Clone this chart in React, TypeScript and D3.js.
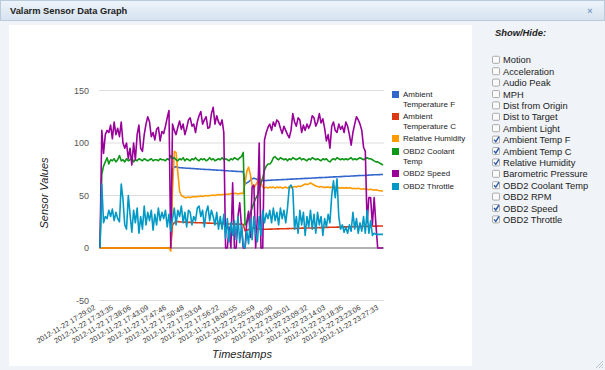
import React from 'react'
import * as d3 from 'd3'

// x axis labels, one every 10 readings
const tickLabels = [
  '2012-11-22 17:29:02', '2012-11-22 17:33:35', '2012-11-22 17:38:06', '2012-11-22 17:43:09',
  '2012-11-22 17:47:46', '2012-11-22 17:50:48', '2012-11-22 17:53:04', '2012-11-22 17:56:22',
  '2012-11-22 18:00:55', '2012-11-22 22:55:59', '2012-11-22 23:00:30', '2012-11-22 23:05:01',
  '2012-11-22 23:09:32', '2012-11-22 23:14:03', '2012-11-22 23:18:35', '2012-11-22 23:23:06',
  '2012-11-22 23:27:33',
]
const tickEvery = 10
const yTicks = [-50, 0, 50, 100, 150]

const ambientTempF = [
  0, 0, 0, 0, 0, 0, 0, 0, 0, 0,
  0, 0, 0, 0, 0, 0, 0, 0, 0, 0,
  0, 0, 0, 0, 0, 0, 0, 0, 0, 0,
  0, 0, 0, 0, 0, 0, 0, 0, 0, 0,
  0, 75, 77, 77.5, 77, 76.5, 76.5, 76.3, 76.2, 76,
  75.9, 75.8, 75.7, 75.6, 75.5, 75.4, 75.3, 75.1, 75.0, 74.9,
  74.8, 74.7, 74.6, 74.5, 74.4, 74.3, 74.2, 74.1, 74.0, 73.9,
  73.8, 73.6, 73.5, 73.4, 73.3, 73.2, 73.1, 73.0, 72.9, 72.8,
  72.7, 72.6, 61, 62, 63, 64.5, 66, 66.5, 66, 65,
  64.5, 64.3, 64.2, 64.2, 64.3, 64.4, 64.5, 64.6, 64.7, 64.8,
  64.9, 65.0, 65.0, 65.1, 65.2, 65.3, 65.4, 65.5, 65.6, 65.6,
  65.7, 65.8, 65.9, 66.0, 66.1, 66.2, 66.3, 66.3, 66.4, 66.5,
  66.6, 66.7, 66.8, 66.9, 67.0, 67.0, 67.1, 67.2, 67.3, 67.4,
  67.5, 67.6, 67.7, 67.7, 67.8, 67.9, 68.0, 68.1, 68.2, 68.3,
  68.4, 68.4, 68.5, 68.6, 68.7, 68.8, 68.9, 69.0, 69.1, 69.1,
  69.2, 69.3, 69.4, 69.5, 69.6, 69.7, 69.8, 69.8, 69.9, 70.0,
  70.0,
]

const ambientTempC = [
  0, 0, 0, 0, 0, 0, 0, 0, 0, 0,
  0, 0, 0, 0, 0, 0, 0, 0, 0, 0,
  0, 0, 0, 0, 0, 0, 0, 0, 0, 0,
  0, 0, 0, 0, 0, 0, 0, 0, 0, 0,
  0, 22, 24, 25, 25.2, 24.9, 24.8, 24.7, 24.6, 24.5,
  24.4, 24.4, 24.3, 24.3, 24.2, 24.1, 24.0, 24.0, 23.9, 23.8,
  23.8, 23.7, 23.7, 23.6, 23.5, 23.5, 23.4, 23.3, 23.3, 23.2,
  23.1, 23.1, 23.0, 22.9, 22.9, 22.8, 22.8, 22.7, 22.7, 22.6,
  22.6, 22.5, 16.5, 17, 17.5, 18, 18.5, 19, 18.8, 18.3,
  18.1, 18.0, 17.8, 17.8, 17.9, 17.9, 18.0, 18.0, 18.1, 18.1,
  18.2, 18.2, 18.3, 18.3, 18.4, 18.4, 18.5, 18.5, 18.6, 18.6,
  18.7, 18.7, 18.8, 18.8, 18.9, 18.9, 19.0, 19.0, 19.1, 19.1,
  19.2, 19.2, 19.3, 19.3, 19.4, 19.4, 19.5, 19.5, 19.6, 19.6,
  19.7, 19.7, 19.8, 19.8, 19.9, 19.9, 20.0, 20.0, 20.1, 20.1,
  20.2, 20.2, 20.3, 20.3, 20.4, 20.4, 20.5, 20.5, 20.5, 20.6,
  20.6, 20.6, 20.7, 20.7, 20.7, 20.8, 20.8, 20.8, 20.9, 20.9,
  21.0,
]

const relHumidity = [
  0, 0, 0, 0, 0, 0, 0, 0, 0, 0,
  0, 0, 0, 0, 0, 0, 0, 0, 0, 0,
  0, 0, 0, 0, 0, 0, 0, 0, 0, 0,
  0, 0, 0, 0, 0, 0, 0, 0, 0, 0,
  -3, 55, 92, 91, 72, 54, 50, 49, 48, 48,
  48.5, 48, 48.5, 49, 48.5, 49, 49, 49.5, 49, 49.5,
  50, 49.5, 50, 50, 50.5, 50, 50.5, 51, 50.5, 51,
  51, 51.5, 51, 51.5, 52, 51.5, 52, 52, 51.5, 52,
  52, 52, 62, 73, 77, 70, 60, 57, 60, 63,
  70, 62, 58, 57, 58, 57, 58, 57.5, 58, 57,
  58, 57.5, 58, 57, 57.5, 58, 57, 58, 57.5, 58,
  58.5, 58, 59, 58.5, 59, 60, 61, 60.5, 61, 62,
  61, 60, 59, 58.5, 58, 58.5, 58, 57.5, 58, 58,
  57.5, 58, 57.5, 58, 57, 57.5, 57, 57.5, 57, 57.5,
  57, 57.5, 57, 56.5, 57, 56.5, 57, 56.5, 56, 56.5,
  56, 56, 55.5, 56, 55.5, 55, 55.5, 55, 54.5, 54.5,
  54,
]

const coolantTemp = [
  0, 70, 78, 82, 86, 80, 84, 83, 85, 82,
  84, 88, 83, 84, 82, 85, 83, 84, 86, 82,
  84, 83, 85, 84, 83, 85, 84, 83, 84, 85,
  83, 84, 84, 83, 85, 84, 84, 83, 85, 84,
  88, 85, 86, 84, 83, 85, 84, 86, 83, 85,
  84, 83, 85, 84, 86, 84, 83, 85, 84, 85,
  83, 84, 86, 84, 85, 83, 84, 85, 84, 86,
  84, 85, 84, 83, 85, 84, 86, 85, 84, 86,
  87, 91, 22, 24, 28, 33, 38, 43, 47, 50,
  56, 62, 67, 74, 78, 80, 80, 82, 86, 87,
  85, 84, 86, 85, 84, 85, 83, 85, 84, 86,
  85, 84, 85, 86, 84, 85, 84, 83, 85, 84,
  86, 85, 84, 85, 84, 83, 85, 84, 85, 83,
  82, 84, 85, 84, 86, 85, 84, 85, 84, 85,
  84, 85, 86, 84, 85, 84, 85, 86, 85, 84,
  85, 86, 85, 85, 84, 83, 82, 82, 81, 80,
  79,
]

const speed = [
  0, 112, 90, 108, 112, 110, 117, 104, 120, 108,
  114, 106, 120, 100, 95, 100, 85, 95, 79, 100,
  84, 108, 117, 95, 92, 108, 118, 125, 120, 106,
  110, 103, 113, 115, 102, 111, 109, 116, 124, 131,
  0, 118, 112, 108, 115, 121, 113, 118, 108, 114,
  122, 124, 116, 118, 110, 120, 126, 130, 118, 122,
  125, 114, 115, 128, 134, 118, 126, 120, 117, 122,
  110, 0, 0, 20, 0, 62, 0, 0, 30, 43,
  20, 0, 0, 25, 35, 10, 58, 60, 0, 30,
  100, 0, 0, 103, 110, 115, 118, 112, 120, 116,
  122, 120, 114, 109, 116, 112, 108, 105, 112, 128,
  120, 116, 124, 122, 110, 117, 112, 118, 114, 118,
  126, 124, 116, 120, 128, 119, 123, 114, 102, 108,
  95, 116, 120, 112, 110, 118, 113, 116, 110, 120,
  116, 108, 98, 110, 118, 125, 122, 118, 112, 96,
  92, 24, 48, 48, 22, 48, 22, 0, 0, 0,
  0,
]

const throttle = [
  0, 61, 24, 30, 28, 36, 30, 37, 26, 34,
  28, 25, 61, 46, 22, 18, 50, 32, 15, 36,
  24, 38, 14, 30, 18, 40, 22, 34, 26, 36,
  17, 32, 22, 38, 26, 34, 28, 36, 20, 32,
  16, 28, 38, 22, 36, 30, 40, 24, 34, 20,
  36, 34, 22, 30, 26, 38, 40, 30, 36, 20,
  34, 40, 26, 36, 30, 22, 34, 18, 30, 18,
  32, 9, 28, 6, 24, 12, 26, 8, 30, 5,
  22, 2, 0, 16, 4, 28, 8, 30, 14, 6,
  30, 12, 36, 24, 33, 28, 36, 24, 38, 26,
  34, 22, 38, 28, 36, 24, 38, 58, 60, 56,
  18, 30, 14, 36, 22, 34, 12, 30, 20, 36,
  18, 32, 14, 34, 22, 30, 12, 28, 20, 32,
  24, 50, 64, 48, 66, 30, 18, 22, 15, 20,
  14, 22, 16, 34, 18, 28, 14, 24, 16, 30,
  14, 36, 14, 26, 12, 14, 13, 13, 13, 13,
  13,
]

const series = [
  { name: ['Ambient', 'Temperature F'], color: '#3366cc', values: ambientTempF },
  { name: ['Ambient', 'Temperature C'], color: '#dc3912', values: ambientTempC },
  { name: ['Relative Humidity'], color: '#ff9900', values: relHumidity },
  { name: ['OBD2 Coolant', 'Temp'], color: '#109618', values: coolantTemp },
  { name: ['OBD2 Speed'], color: '#990099', values: speed },
  { name: ['OBD2 Throttle'], color: '#0099c6', values: throttle },
]

const sensorNames = [
  'Motion', 'Acceleration', 'Audio Peak', 'MPH', 'Dist from Origin', 'Dist to Target',
  'Ambient Light', 'Ambient Temp F', 'Ambient Temp C', 'Relative Humidity',
  'Barometric Pressure', 'OBD2 Coolant Temp', 'OBD2 RPM', 'OBD2 Speed', 'OBD2 Throttle',
]
const sensorShown = [
  false, false, false, false, false, false, false, true, true, true, false, true, false, true, true,
]

const font = '"Liberation Sans", Arial, sans-serif'

export default function App() {
  const n = speed.length
  const x = d3.scaleLinear().domain([0, n - 1]).range([100, 383])
  const y = d3.scaleLinear().domain([-50, 150]).range([300.5, 90.5])
  const line = d3.line<number>().x((_, i) => x(i)).y(d => y(d))

  const legendY = [91, 113, 135, 148, 170, 183]

  return (
    <svg width={605} height={370} style={{ position: 'absolute', left: 0, top: 0 }} fontFamily={font}>
      <defs>
        <linearGradient id="titlebar" x1="0" y1="0" x2="0" y2="1">
          <stop offset="0" stopColor="#eef4fa" />
          <stop offset="1" stopColor="#d5e2ef" />
        </linearGradient>
      </defs>
      <rect x={0} y={0} width={605} height={370} fill="#f0f3f7" />
      <rect x={0.5} y={0.5} width={604} height={20} fill="url(#titlebar)" stroke="#b9cadb" />
      <text x={10} y={14} fontSize={9.3} fontWeight="bold" fill="#222">Valarm Sensor Data Graph</text>
      <text x={590} y={14} fontSize={9} fontWeight="bold" fill="#7d9cc4" textAnchor="middle">×</text>

      <rect x={9} y={25} width={463} height={341} fill="#fff" />

      {/* gridlines */}
      {yTicks.map(t => (
        <g key={t}>
          <line x1={99} x2={384} y1={y(t)} y2={y(t)} stroke={t === 0 ? '#999' : '#ddd'} strokeWidth={t === 0 ? 1.5 : 1} />
          <text x={89} y={y(t) + 3} fontSize={9} fill="#555" textAnchor="end">{t}</text>
        </g>
      ))}

      {/* series lines */}
      {series.map(s => (
        <path key={s.color} d={line(s.values) || ''} fill="none" stroke={s.color} strokeWidth={1.6} strokeLinejoin="round" />
      ))}

      {/* x labels */}
      {tickLabels.map((lab, k) => {
        const px = x(k * tickEvery)
        return (
          <text key={lab} fontSize={7.3} fill="#333" textAnchor="end"
            transform={`translate(${px - 4},${309}) rotate(-31)`}>{lab}</text>
        )
      })}

      <text x={242} y={358} fontSize={11} fontStyle="italic" fill="#222" textAnchor="middle">Timestamps</text>
      <text fontSize={11} fontStyle="italic" fill="#222" textAnchor="middle" transform="translate(48,193) rotate(-90)">Sensor Values</text>

      {/* legend */}
      {series.map((s, k) => (
        <g key={s.color}>
          <rect x={392} y={legendY[k]} width={7} height={7} fill={s.color} />
          {s.name.map((part, j) => (
            <text key={part} x={403} y={legendY[k] + 6 + j * 10} fontSize={8} fill="#222">{part}</text>
          ))}
        </g>
      ))}

      {/* show/hide panel */}
      <text x={495} y={36} fontSize={9.4} fontWeight="bold" fontStyle="italic" fill="#222">Show/Hide:</text>
      {sensorNames.map((nm, k) => {
        const ry = 63.3 + k * 11.4
        return (
          <g key={nm}>
            <rect x={492.5} y={ry - 7} width={7} height={7} rx={1} fill="#fafafa" stroke="#999" strokeWidth={0.8} />
            {sensorShown[k] && (
              <path d={`M${494},${ry - 3.5} L${495.8},${ry - 1.5} L${499},${ry - 6.5}`} fill="none" stroke="#2b5aa8" strokeWidth={1.4} />
            )}
            <text x={503} y={ry} fontSize={9.3} fill="#222">{nm}</text>
          </g>
        )
      })}

      {/* resize grip */}
      <path d="M596,368 L603,361 M599,368 L603,364 M602,368 L603,367" stroke="#aab6c4" strokeWidth={0.8} />
    </svg>
  )
}
